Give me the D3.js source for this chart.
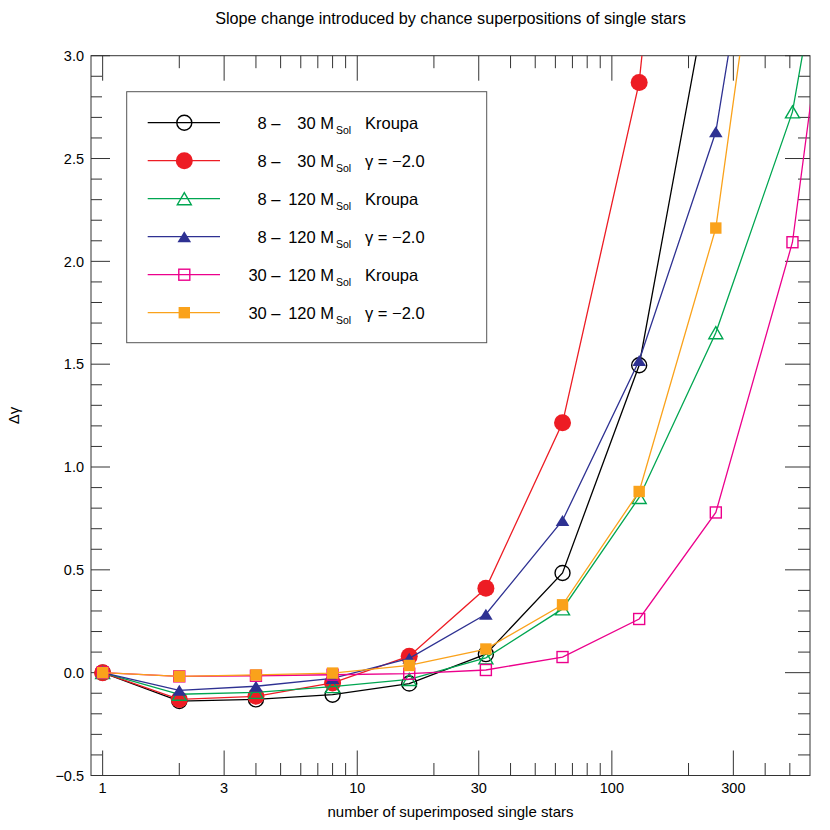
<!DOCTYPE html>
<html>
<head>
<meta charset="utf-8">
<script src="https://cdn.jsdelivr.net/npm/d3@7"></script>
<style>
  html, body { margin: 0; padding: 0; background: #fff; }
  svg { display: block; font-family: "Liberation Sans", Arial, Helvetica, sans-serif; }
  svg text { white-space: pre; }
</style>
</head>
<body>
<svg id="chart" width="830" height="830"></svg>
<script>
// ---------- data ----------
const nStars = [1, 2, 4, 8, 16, 32, 64, 128, 256, 512, 1024];

const lowMass   = ["8 \u2013", "8 \u2013", "8 \u2013", "8 \u2013", "30 \u2013", "30 \u2013"];
const highMass  = ["30 M", "30 M", "120 M", "120 M", "120 M", "120 M"];
const imfLabels = ["Kroupa", "\u03B3 = \u22122.0", "Kroupa", "\u03B3 = \u22122.0", "Kroupa", "\u03B3 = \u22122.0"];

const black8_30K   = [0, -0.138, -0.13, -0.107, -0.053, 0.09, 0.485, 1.495, 3.52, null, null];
const red8_30G     = [0, -0.13, -0.115, -0.05, 0.08, 0.41, 1.215, 2.87, 6.5, null, null];
const green8_120K  = [0, -0.105, -0.096, -0.068, -0.033, 0.072, 0.31, 0.852, 1.653, 2.727, 4.85];
const blue8_120G   = [0, -0.086, -0.066, -0.028, 0.07, 0.284, 0.74, 1.518, 2.63, 4.91, null];
const mag30_120K   = [0, -0.018, -0.015, -0.01, -0.005, 0.013, 0.076, 0.261, 0.779, 2.093, 4.94];
const ora30_120G   = [0, -0.018, -0.011, -0.002, 0.035, 0.115, 0.33, 0.881, 2.162, 4.85, null];

const seriesValues = [black8_30K, red8_30G, green8_120K, blue8_120G, mag30_120K, ora30_120G];
const seriesColors = ["#000000", "#ed1c24", "#00a651", "#2e3192", "#ec008c", "#faa21b"];
const seriesSymbols = ["circleOpen", "circleFilled", "triangleOpen", "triangleFilled", "squareOpen", "squareFilled"];

const xMajorTicks = [1, 3, 10, 30, 100, 300];
const xMajorLabels = ["1", "3", "10", "30", "100", "300"];
const xMinorTicks = [2, 4, 5, 6, 7, 8, 9, 20, 40, 50, 60, 70, 80, 90, 200, 400, 500];
const yMajorTicks = [-0.5, 0, 0.5, 1.0, 1.5, 2.0, 2.5, 3.0];
const yMinorTicks = [-0.4, -0.3, -0.2, -0.1, 0.1, 0.2, 0.3, 0.4, 0.6, 0.7, 0.8, 0.9, 1.1, 1.2, 1.3, 1.4,
                     1.6, 1.7, 1.8, 1.9, 2.1, 2.2, 2.3, 2.4, 2.6, 2.7, 2.8, 2.9];

const titleText = "Slope change introduced by chance superpositions of single stars";
const xTitle = "number of superimposed single stars";
const yTitle = "\u0394\u03B3";

// ---------- layout ----------
const L = 91, R = 810, T = 55.7, B = 775.5;
const svg = d3.select("#chart");
const x = d3.scaleLog().domain([0.9, 600]).range([L, R]);
const y = d3.scaleLinear().domain([-0.5, 3.0]).range([B, T]);
const axisColor = "#333";

svg.append("defs").append("clipPath").attr("id", "plotclip")
  .append("rect").attr("x", L).attr("y", T).attr("width", R - L).attr("height", B - T);

// title
svg.append("text").attr("x", (L + R) / 2).attr("y", 24).attr("text-anchor", "middle")
  .attr("font-size", 16.2).attr("fill", "#000").text(titleText);

// ticks
const tg = svg.append("g").attr("stroke", axisColor).attr("stroke-width", 1);
function vtick(xv, len) {
  const px = x(xv);
  tg.append("line").attr("x1", px).attr("x2", px).attr("y1", B).attr("y2", B - len);
  tg.append("line").attr("x1", px).attr("x2", px).attr("y1", T).attr("y2", T + len);
}
function htick(yv, lenL, lenR) {
  const py = y(yv);
  tg.append("line").attr("x1", L).attr("x2", L + lenL).attr("y1", py).attr("y2", py);
  tg.append("line").attr("x1", R).attr("x2", R - lenR).attr("y1", py).attr("y2", py);
}
xMajorTicks.forEach(v => vtick(v, 25));
xMinorTicks.forEach(v => vtick(v, 12.5));
yMajorTicks.forEach(v => htick(v, 19, 25));
yMinorTicks.forEach(v => htick(v, 11, 12));

// frame
svg.append("rect").attr("x", L).attr("y", T).attr("width", R - L).attr("height", B - T)
  .attr("fill", "none").attr("stroke", axisColor).attr("stroke-width", 1);

// tick labels
svg.append("g").selectAll("text").data(xMajorTicks).join("text")
  .attr("x", d => x(d)).attr("y", 793).attr("text-anchor", "middle")
  .attr("font-size", 14.5).text((d, i) => xMajorLabels[i]);
svg.append("g").selectAll("text").data(yMajorTicks).join("text")
  .attr("x", 84).attr("y", d => y(d)).attr("dy", "0.36em").attr("text-anchor", "end")
  .attr("font-size", 14.5).text(d => (d < 0 ? "\u2212" : "") + Math.abs(d).toFixed(1));

// axis titles
svg.append("text").attr("x", (L + R) / 2).attr("y", 817).attr("text-anchor", "middle")
  .attr("font-size", 15).text(xTitle);
svg.append("text").attr("transform", `translate(19,${(T + B) / 2}) rotate(-90)`)
  .attr("text-anchor", "middle").attr("font-size", 15).text(yTitle);

// symbols
function drawSymbol(g, kind, cx, cy, color) {
  if (kind === "circleOpen") {
    g.append("circle").attr("cx", cx).attr("cy", cy).attr("r", 7.5)
      .attr("fill", "none").attr("stroke", color).attr("stroke-width", 1.4);
  } else if (kind === "circleFilled") {
    g.append("circle").attr("cx", cx).attr("cy", cy).attr("r", 8.5).attr("fill", color);
  } else if (kind === "triangleOpen") {
    const w = 7, h = 12;
    g.append("path").attr("d", `M${cx},${cy - h / 2}L${cx + w},${cy + h / 2}L${cx - w},${cy + h / 2}Z`)
      .attr("fill", "none").attr("stroke", color).attr("stroke-width", 1.4);
  } else if (kind === "triangleFilled") {
    const w = 6.8, h = 11;
    g.append("path").attr("d", `M${cx},${cy - h / 2}L${cx + w},${cy + h / 2}L${cx - w},${cy + h / 2}Z`)
      .attr("fill", color);
  } else if (kind === "squareOpen") {
    g.append("rect").attr("x", cx - 5.5).attr("y", cy - 5.5).attr("width", 11).attr("height", 11)
      .attr("fill", "none").attr("stroke", color).attr("stroke-width", 1.4);
  } else if (kind === "squareFilled") {
    g.append("rect").attr("x", cx - 5.7).attr("y", cy - 5.7).attr("width", 11.4).attr("height", 11.4)
      .attr("fill", color);
  }
}

// series
const plot = svg.append("g").attr("clip-path", "url(#plotclip)");
const line = d3.line().defined(d => d[1] !== null).x(d => x(d[0])).y(d => y(d[1]));
seriesValues.forEach((vals, i) => {
  const pts = nStars.map((n, j) => [n, vals[j]]);
  const g = plot.append("g");
  g.append("path").attr("d", line(pts)).attr("fill", "none")
    .attr("stroke", seriesColors[i]).attr("stroke-width", 1.3);
  pts.filter(p => p[1] !== null).forEach(p => drawSymbol(g, seriesSymbols[i], x(p[0]), y(p[1]), seriesColors[i]));
});

// legend
const lg = svg.append("g");
lg.append("rect").attr("x", 126.7).attr("y", 91.7).attr("width", 360).attr("height", 251)
  .attr("fill", "#fff").attr("stroke", "#555").attr("stroke-width", 1);
seriesColors.forEach((c, i) => {
  const ly = 122.7 + i * 38;
  lg.append("line").attr("x1", 147.7).attr("x2", 220).attr("y1", ly).attr("y2", ly)
    .attr("stroke", c).attr("stroke-width", 1.3);
  drawSymbol(lg, seriesSymbols[i], 184.3, ly, c);
  const base = ly + 5.8;
  lg.append("text").attr("x", 280.5).attr("y", base).attr("text-anchor", "end")
    .attr("font-size", 16.5).text(lowMass[i]);
  lg.append("text").attr("x", 334).attr("y", base).attr("text-anchor", "end")
    .attr("font-size", 16.5).text(highMass[i]);
  lg.append("text").attr("x", 336).attr("y", base + 5.5).attr("font-size", 10.5).text("Sol");
  lg.append("text").attr("x", 365).attr("y", base).attr("font-size", 16.5).text(imfLabels[i]);
});
</script>
</body>
</html>
